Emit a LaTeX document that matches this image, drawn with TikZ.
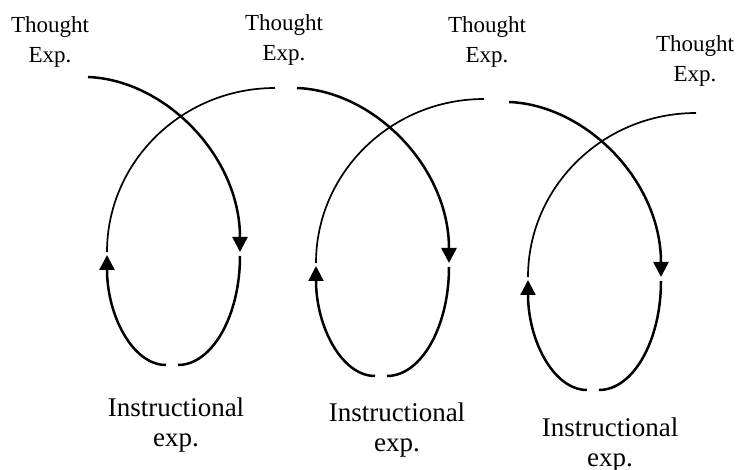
\documentclass[tikz,border=0pt]{standalone}
\usepackage{fontspec}
\setmainfont{Liberation Serif}
\usetikzlibrary{arrows.meta}
\begin{document}
\begin{tikzpicture}[x=1pt,y=-1pt,
  thickarc/.style={line width=2.5pt},
  thinarc/.style={line width=1.7pt},
  tip/.style={-{Triangle[width=15pt,length=15pt]}},
  thought/.style={align=center,inner sep=0pt,font=\fontsize{23}{30}\selectfont,anchor=base},
  instr/.style={align=center,inner sep=0pt,font=\fontsize{27}{30.5}\selectfont,anchor=base}]
\useasboundingbox (0,0) rectangle (737,470);
\foreach \i/\dx/\dy in {1/0/0,2/209/11,3/421/25}{
  \begin{scope}[shift={(\dx,\dy)}]
    \coordinate (s\i) at (88,77);
    \coordinate (r\i) at (240,252);
    \coordinate (rb\i) at (240,256);
    \coordinate (br\i) at (178,365);
    \coordinate (bl\i) at (166,365);
    \coordinate (l\i) at (107,255);
    \coordinate (lt\i) at (107,252);
    \coordinate (e\i) at (275,88);
    \draw[thickarc,tip] (s\i) .. controls +(77,3) and +(0,-96) .. (r\i);
    \draw[thickarc] (rb\i) .. controls +(0,60) and +(34,0) .. (br\i);
    \draw[thickarc,tip] (bl\i) .. controls +(-33,0) and +(0,61) .. (l\i);
    \draw[thinarc] (lt\i) .. controls +(0,-90) and +(-93,0) .. (e\i);
  \end{scope}
}
\node[thought] (t1) at (50,63) {Thought\\Exp.};
\node[thought] (t2) at (284,61) {Thought\\Exp.};
\node[thought] (t3) at (487,63) {Thought\\Exp.};
\node[thought] (t4) at (695,82) {Thought\\Exp.};
\node[instr] (i1) at (176,447) {Instructional\\exp.};
\node[instr] (i2) at (397,452) {Instructional\\exp.};
\node[instr] (i3) at (610,467) {Instructional\\exp.};
\end{tikzpicture}
\end{document}
